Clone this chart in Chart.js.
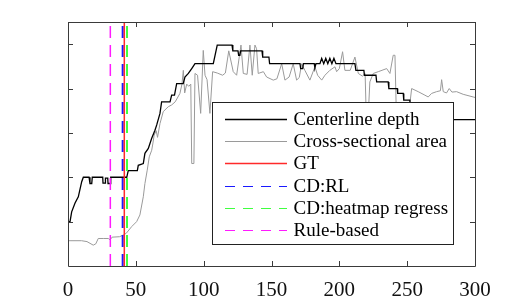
<!DOCTYPE html>
<html>
<head>
<meta charset="utf-8">
<script src="https://cdn.jsdelivr.net/npm/chart.js@4.4.1/dist/chart.umd.min.js"></script>
<style>
html,body{margin:0;padding:0;background:#fff;overflow:hidden;}
#wrap{width:525px;height:300px;position:relative;}
</style>
</head>
<body>
<div id="wrap"><canvas id="c" width="525" height="300"></canvas></div>
<script>
// ---- data ----
const depthX = [0.5,1.5,2.7,5.2,7.6,10.1,11.3,15.5,16.2,17.5,17.9,25.6,25.8,27.3,27.6,29.3,29.5,31,31.5,43.3,44.4,51.1,51.8,55.5,56.7,59.2,61.7,64.1,65.4,67.8,69,75.2,76.4,78.5,80.1,84.9,86.2,88.7,91.2,93.6,107.1,110,120.9,121.5,125.3,125.8,126.7,127.2,143,143.5,148.1,148.6,171,171.5,173,173.5,181.5,182,182.8,185.7,187,188.5,190,191.5,193,194.5,196,197.5,211.5,212.2,218.1,218.5,227,227.5,236,236.5,242.7,243,247.1,247.5,252,252.5,300];
const depthY = [1.0,1.0,1.22,1.42,1.56,1.9,2.0,2.0,1.86,1.86,2.0,2.0,1.87,1.87,1.98,1.98,1.86,1.86,2.0,2.0,2.15,2.15,2.27,2.31,2.54,2.65,2.88,3.06,3.18,3.44,3.7,3.7,3.85,3.85,4.11,4.11,4.26,4.34,4.45,4.56,4.56,4.98,4.98,4.85,4.85,4.75,4.75,4.85,4.85,4.71,4.71,4.56,4.56,4.45,4.45,4.56,4.56,4.47,4.56,4.56,4.68,4.56,4.68,4.56,4.68,4.56,4.68,4.56,4.56,4.41,4.41,4.3,4.3,4.15,4.15,4.0,4.0,3.89,3.89,3.74,3.74,3.3,3.3];

const areaX = [0,1.5,10,14,18.6,20.5,22.3,26,29.7,31,32.5,38,40.8,43,47,50.6,53,55.5,56.7,58.4,59.9,61.7,62.5,63.5,65,66,67.8,70.2,73.9,76.4,79,82.5,84,85,86,87.5,89,90.5,91.2,92.8,93.6,95.5,97.8,99.7,101,102.5,104.6,106.6,110,114,116,118.5,121.8,124.3,127.5,129.2,132,134.1,135.8,137.8,139,140.2,144,146.4,151.3,154,157.5,159.9,163,166,168.5,170.5,172.2,174.6,178.3,182,184,187,189.4,193,196.8,198,200,202.4,204.1,208,211.5,214,217,219,220,221,222.5,225,228.7,234.9,237.3,239.7,241,242.2,250,252,253.3,258.1,263.1,265.5,268,271.7,274.5,275.4,276.6,279,281,283,286.4,291.3,298.7,300];
const areaY = [0.57,0.57,0.57,0.55,0.47,0.5,0.62,0.62,0.62,0.59,0.65,0.66,0.70,0.74,0.89,1.0,1.15,1.56,1.86,2.16,2.46,2.61,2.75,2.95,3.05,2.9,3.21,3.48,3.59,3.63,3.7,3.89,4.1,4.41,3.9,4.1,4.05,4.1,2.31,2.31,4.34,4.3,3.44,4.86,4.3,4.2,3.44,4.38,4.35,4.3,4.35,4.85,4.38,4.3,4.98,4.34,4.32,4.98,4.3,4.98,4.9,4.34,4.38,4.26,4.19,4.22,4.56,4.19,4.26,4.56,4.19,4.25,4.56,4.41,4.19,4.49,4.3,4.19,4.3,4.41,4.49,4.38,4.45,4.83,4.41,4.41,4.71,4.34,4.28,4.34,3.2,3.2,4.15,4.34,4.38,4.45,4.34,4.75,4.75,3.2,3.3,3.66,4.0,3.93,3.85,3.81,3.89,3.93,3.95,4.2,3.93,3.9,4.0,3.92,3.93,3.87,3.81,3.8];

const gtX = 41.5;
const rlX = 40.3;
const heatmapX = 43.5;
const ruleX = 31.2;

const xTicks = [0,50,100,150,200,250,300];
const yTicks = [1,2,3,4,5];
const yMin = 0, yMax = 5.5;

const labels = ['Centerline depth','Cross-sectional area','GT','CD:RL','CD:heatmap regress','Rule-based'];

// ---- build ----
const toPts = (xs, ys) => xs.map((x,i)=>({x:x,y:ys[i]}));
const vLine = (x) => [{x:x,y:yMin},{x:x,y:yMax}];

const FONT = '"Liberation Serif", "Times New Roman", serif';
const AXIS = '#3a3a3a';

const boxPlugin = {
  id:'box',
  afterDatasetsDraw(chart){
    const {ctx, chartArea:a, scales:{x, y}} = chart;
    ctx.save();
    ctx.strokeStyle = AXIS;
    ctx.lineWidth = 1;
    ctx.beginPath();
    ctx.rect(Math.round(a.left)+0.5, Math.round(a.top)+0.5, Math.round(a.right-a.left), Math.round(a.bottom-a.top));
    ctx.stroke();
    const L = 5;
    ctx.beginPath();
    xTicks.forEach(v=>{
      const px = Math.round(x.getPixelForValue(v))+0.5;
      ctx.moveTo(px, a.bottom); ctx.lineTo(px, a.bottom-L);
      ctx.moveTo(px, a.top); ctx.lineTo(px, a.top+L);
    });
    yTicks.forEach(v=>{
      const py = Math.round(y.getPixelForValue(v))+0.5;
      ctx.moveTo(a.left, py); ctx.lineTo(a.left+L, py);
      ctx.moveTo(a.right, py); ctx.lineTo(a.right-L, py);
    });
    ctx.stroke();
    ctx.restore();
  },
  afterDraw(chart){
    const {ctx} = chart;
    const bx = 212.5, by = 102.5, bw = 241, bh = 142;
    ctx.save();
    ctx.fillStyle = '#fff';
    ctx.fillRect(bx, by, bw, bh);
    ctx.strokeStyle = '#222';
    ctx.lineWidth = 1;
    ctx.strokeRect(bx, by, bw, bh);
    ctx.font = '19px ' + FONT;
    ctx.textBaseline = 'middle';
    const rows = [118.5, 140.7, 162.7, 185.5, 207.5, 230];
    const sampleW = [1.4, 1.2, 1.3, 1.2, 1.2, 1.2];
    chart.data.datasets.forEach((ds, i)=>{
      const yy = Math.round(rows[i]) + 0.5;
      ctx.save();
      ctx.beginPath();
      ctx.strokeStyle = ds.borderColor;
      ctx.lineWidth = sampleW[i];
      ctx.setLineDash(ds.borderDash ? [10,8] : []);
      ctx.moveTo(225, yy); ctx.lineTo(287, yy);
      ctx.stroke();
      ctx.restore();
      ctx.fillStyle = '#000';
      ctx.fillText(ds.label, 293.5, yy+1);
    });
    ctx.restore();
  }
};

const dash = [12,7];
new Chart(document.getElementById('c'), {
  type:'line',
  data:{
    datasets:[
      {label:labels[0], data:toPts(depthX, depthY), borderColor:'#000000', borderWidth:1.3, order:5},
      {label:labels[1], data:toPts(areaX, areaY), borderColor:'#9a9a9a', borderWidth:1, order:6},
      {label:labels[2], data:vLine(gtX), borderColor:'#ff2a2a', borderWidth:1.5, order:1},
      {label:labels[3], data:vLine(rlX), borderColor:'#1a1aff', borderWidth:2, borderDash:dash, order:2},
      {label:labels[4], data:vLine(heatmapX), borderColor:'#40ff40', borderWidth:2, borderDash:dash, order:3},
      {label:labels[5], data:vLine(ruleX), borderColor:'#ff1aff', borderWidth:1.5, borderDash:dash, order:4}
    ]
  },
  options:{
    responsive:false,
    maintainAspectRatio:false,
    animation:false,
    devicePixelRatio:1,
    elements:{point:{radius:0}, line:{tension:0, fill:false}},
    layout:{padding:{left:68, right:50, top:22, bottom:0}},
    plugins:{legend:{display:false}, tooltip:{enabled:false}},
    scales:{
      x:{
        type:'linear', min:0, max:300,
        afterBuildTicks(s){ s.ticks = xTicks.map(v=>({value:v})); },
        grid:{display:false, drawTicks:false},
        border:{display:false},
        ticks:{color:'#111', padding:12, maxRotation:0, autoSkip:false, font:{family:FONT, size:21}},
        afterFit(s){ s.height = 34; }
      },
      y:{
        type:'linear', min:yMin, max:yMax,
        grid:{display:false, drawTicks:false},
        border:{display:false},
        ticks:{display:false},
        afterFit(s){ s.width = 0; }
      }
    }
  },
  plugins:[boxPlugin]
});
</script>
</body>
</html>
